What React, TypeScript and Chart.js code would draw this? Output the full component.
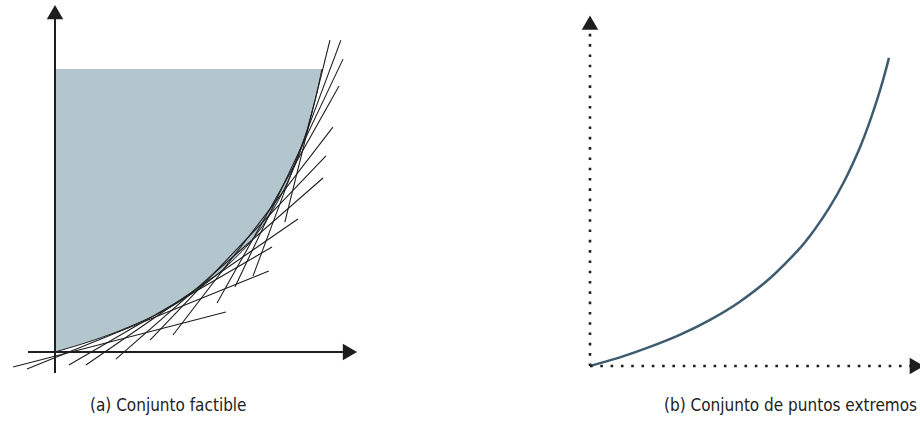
import React, { useEffect, useRef } from "react";
import { Chart, registerables } from "chart.js";

Chart.register(...registerables);

// ---------- Panel (a): feasible set ----------
// boundary curve of the feasible set (data units)
const curveAX = [0, 1, 2, 3, 4, 5, 6, 7, 7.5, 8, 8.5, 9, 9.3, 9.6, 9.8, 10];
const curveAY = [0, 0.28, 0.6, 0.98, 1.42, 1.98, 2.68, 3.55, 4.1, 4.77, 5.6, 6.62, 7.4, 8.4, 9.12, 10];
const feasibleTopY = 10;

// supporting (tangent) lines: start and end points
const tanX1 = [8.61, 7.42, 6.74, 6.07, 4.42, 3.56, 2.28, 1.16, 0.52, -1.05, -1.57];
const tanY1 = [4.59, 2.69, 2.3, 1.73, 0.6, 0.42, -0.25, -0.46, -0.46, -0.6, -0.53];
const tanX2 = [10.3, 10.71, 10.79, 10.64, 10.41, 10.15, 10.04, 9.1, 8.13, 8.01, 6.4];
const tanY2 = [11.02, 11.02, 10.35, 9.4, 7.95, 6.93, 6.15, 4.7, 3.71, 2.86, 1.41];

// axis extents of panel (a): [from, to]
const axisAX = [-1.01, 10.96];
const axisAY = [-0.74, 11.93];

// ---------- Panel (b): extreme points ----------
const curveBX = [0, 1, 2, 3, 4, 5, 6, 7, 7.5, 8, 8.5, 9, 9.3, 9.6, 9.8, 10];
const curveBY = [0, 0.28, 0.62, 1.01, 1.49, 2.08, 2.83, 3.8, 4.41, 5.13, 5.99, 7.03, 7.78, 8.64, 9.28, 10];
const axisBX = [0, 10.85];
const axisBY = [0, 11.07];

const captions = ["(a) Conjunto factible", "(b) Conjunto de puntos extremos"];

const SHADE = "#b3c6cd";
const INK = "#1e1e1e";
const CURVE_B = "#3e5c6f";

function pts(xs: number[], ys: number[]) {
  return xs.map((x, i) => ({ x, y: ys[i] }));
}

function axisDataset(
  from: { x: number; y: number },
  to: { x: number; y: number },
  rotation: number,
  dotted: boolean,
  width: number,
  r: number
) {
  return {
    data: [from, to],
    borderColor: INK,
    borderWidth: width,
    borderDash: dotted ? [2.6, 7.7] : [],
    borderCapStyle: "butt",
    pointRadius: [0, r],
    pointStyle: "triangle",
    pointRotation: rotation,
    pointBackgroundColor: INK,
    pointBorderColor: INK,
    pointBorderWidth: 0,
    fill: false,
    tension: 0,
    clip: false,
    order: 0,
  };
}

function baseOptions(xmin: number, xmax: number, ymin: number, ymax: number) {
  return {
    animation: false,
    responsive: false,
    maintainAspectRatio: false,
    events: [],
    layout: { padding: 0, autoPadding: false },
    plugins: { legend: { display: false }, tooltip: { enabled: false }, title: { display: false } },
    scales: {
      x: { type: "linear", min: xmin, max: xmax, display: false },
      y: { type: "linear", min: ymin, max: ymax, display: false },
    },
  } as any;
}

function PanelA() {
  const ref = useRef<HTMLCanvasElement>(null);
  useEffect(() => {
    if (!ref.current) return;
    const datasets: any[] = [];
    // curve with fill up to top line
    datasets.push({
      data: pts(curveAX, curveAY),
      borderColor: INK,
      borderWidth: 1,
      backgroundColor: SHADE,
      fill: "+1",
      pointRadius: 0,
      tension: 0.4,
      clip: false,
      order: 5,
    });
    datasets.push({
      data: [
        { x: curveAX[0], y: feasibleTopY },
        { x: curveAX[curveAX.length - 1], y: feasibleTopY },
      ],
      borderWidth: 0,
      borderColor: "rgba(0,0,0,0)",
      pointRadius: 0,
      fill: false,
      order: 6,
    });
    for (let i = 0; i < tanX1.length; i++) {
      datasets.push({
        data: [
          { x: tanX1[i], y: tanY1[i] },
          { x: tanX2[i], y: tanY2[i] },
        ],
        borderColor: INK,
        borderWidth: 1.1,
        pointRadius: 0,
        fill: false,
        clip: false,
        order: 1,
      });
    }
    datasets.push(axisDataset({ x: axisAX[0], y: 0 }, { x: axisAX[1], y: 0 }, 90, false, 2, 9.5));
    datasets.push(axisDataset({ x: 0, y: axisAY[0] }, { x: 0, y: axisAY[1] }, 0, false, 2, 9.5));
    const chart = new Chart(ref.current, {
      type: "line",
      data: { datasets },
      options: baseOptions(-2.06, 11.8, -0.99, 12.44),
    });
    return () => chart.destroy();
  }, []);
  return (
    <canvas
      ref={ref}
      width={370}
      height={380}
      style={{ position: "absolute", left: 0, top: 0, width: 370, height: 380 }}
    />
  );
}

function PanelB() {
  const ref = useRef<HTMLCanvasElement>(null);
  useEffect(() => {
    if (!ref.current) return;
    const datasets: any[] = [];
    datasets.push({
      data: pts(curveBX, curveBY),
      borderColor: CURVE_B,
      borderWidth: 2.5,
      pointRadius: 0,
      fill: false,
      tension: 0.4,
      clip: false,
      order: 1,
    });
    datasets.push(axisDataset({ x: axisBX[0], y: 0 }, { x: axisBX[1], y: 0 }, 90, true, 2.6, 9.5));
    datasets.push(axisDataset({ x: 0, y: axisBY[0] }, { x: 0, y: axisBY[1] }, 0, true, 2.6, 9.5));
    const chart = new Chart(ref.current, {
      type: "line",
      data: { datasets },
      options: baseOptions(-1.003, 11.037, -0.455, 11.88),
    });
    return () => chart.destroy();
  }, []);
  return (
    <canvas
      ref={ref}
      width={360}
      height={380}
      style={{ position: "absolute", left: 560, top: 0, width: 360, height: 380 }}
    />
  );
}

const captionStyle: React.CSSProperties = {
  position: "absolute",
  top: 395,
  fontFamily: "'Liberation Sans Narrow', 'DejaVu Sans Condensed', 'Roboto', sans-serif",
  fontSize: 17,
  lineHeight: "20px",
  color: "#222",
  whiteSpace: "nowrap",
};

export default function App() {
  return (
    <div
      style={{
        position: "absolute",
        left: 0,
        top: 0,
        width: 920,
        height: 426,
        overflow: "hidden",
        background: "#fff",
      }}
    >
      <PanelA />
      <PanelB />
      <div style={{ ...captionStyle, left: 90 }}>{captions[0]}</div>
      <div style={{ ...captionStyle, left: 664 }}>{captions[1]}</div>
    </div>
  );
}
